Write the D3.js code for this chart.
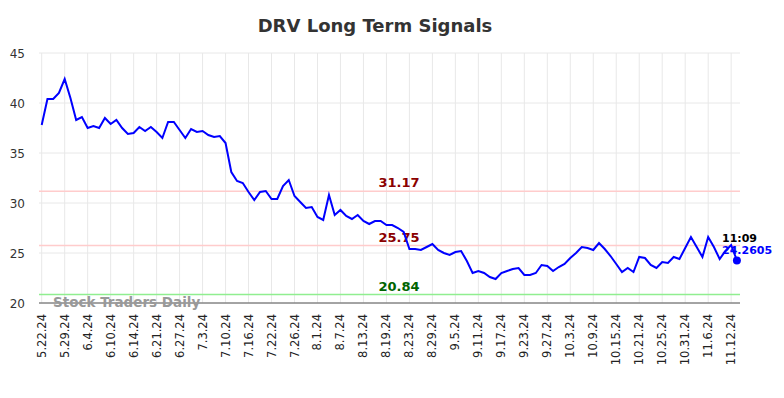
<html>
<script src='https://d3js.org/d3.v7.min.js'></script>
<style>
body { margin:0; background:#fff; }
text { font-family: "DejaVu Sans", sans-serif; }
</style>
<body>
<svg width=784 height=398></svg>
<script>
var tickLabels = ["5.22.24","5.29.24","6.4.24","6.10.24","6.14.24","6.21.24","6.27.24","7.3.24",
	"7.10.24","7.16.24","7.22.24","7.26.24","8.1.24","8.7.24","8.13.24","8.19.24","8.23.24",
	"8.29.24","9.5.24","9.11.24","9.17.24","9.23.24","9.27.24","10.3.24","10.9.24","10.15.24",
	"10.21.24","10.25.24","10.31.24","11.6.24","11.12.24"];
var prices = [37.8, 40.4, 40.4, 41.0, 42.4, 40.5, 38.3, 38.6, 37.5, 37.7, 37.5, 38.5, 37.9, 38.3, 37.5, 36.9,
	37.0, 37.6, 37.2, 37.6, 37.1, 36.5, 38.1, 38.1, 37.3, 36.5, 37.4, 37.1, 37.2, 36.8, 36.6,
	36.7, 36.0, 33.1, 32.2, 32.0, 31.1, 30.3, 31.1, 31.2, 30.4, 30.4, 31.7, 32.3, 30.7, 30.1,
	29.5, 29.6, 28.6, 28.3, 30.8, 28.8, 29.3, 28.7, 28.4, 28.8, 28.2, 27.9, 28.2, 28.2, 27.8,
	27.8, 27.5, 27.1, 25.4, 25.4, 25.3, 25.6, 25.9, 25.3, 25.0, 24.8, 25.1, 25.2, 24.2, 23.0,
	23.2, 23.0, 22.6, 22.4, 23.0, 23.2, 23.4, 23.5, 22.8, 22.8, 23.0, 23.8, 23.7, 23.2, 23.6, 23.9,
	24.5, 25.0, 25.6, 25.5, 25.3, 26.0, 25.4, 24.7, 23.9, 23.1, 23.5, 23.1, 24.6, 24.5, 23.8,
	23.5, 24.1, 24.0, 24.6, 24.4, 25.5, 26.6, 25.6, 24.6, 26.6, 25.6, 24.4, 25.2, 25.8, 24.2605];
var yTicks = [20, 25, 30, 35, 40, 45];
var levels = [31.17, 25.75, 20.84];
var levelColors = ["#ffcccc", "#ffcccc", "#90ee90"];
var levelTextColors = ["#8b0000", "#8b0000", "#006400"];
var lastTime = "11:09";
var tickStep = 4;

var width = 784, height = 398;
var margin = {top: 53, right: 44, bottom: 95, left: 39};
var svg = d3.select("svg");

var x = d3.scaleLinear()
	.domain([0, prices.length - 1])
	.range([41.7, 736.9]);
var y = d3.scaleLinear()
	.domain([20, 45])
	.range([height - margin.bottom, margin.top]);

// title
svg.append("text")
	.attr("x", 375)
	.attr("y", 32)
	.attr("text-anchor", "middle")
	.style("font-size", "18px")
	.style("font-weight", "bold")
	.style("fill", "#333")
	.text("DRV Long Term Signals");

// grid
var tickIdx = tickLabels.map(function(d, i) { return i * tickStep; });
svg.append("g").selectAll("line").data(yTicks).enter().append("line")
	.attr("x1", margin.left).attr("x2", width - margin.right)
	.attr("y1", d => y(d)).attr("y2", d => y(d))
	.attr("stroke", "#e8e8e8").attr("stroke-width", 1);
svg.append("g").selectAll("line").data(tickIdx).enter().append("line")
	.attr("x1", d => x(d)).attr("x2", d => x(d))
	.attr("y1", margin.top).attr("y2", height - margin.bottom)
	.attr("stroke", "#e8e8e8").attr("stroke-width", 1);

// y labels
svg.append("g").selectAll("text").data(yTicks).enter().append("text")
	.attr("x", 25).attr("y", d => y(d) + 4.5)
	.attr("text-anchor", "end")
	.style("font-size", "12px")
	.style("fill", "#333")
	.text(d => d);

// x labels
svg.append("g").selectAll("text").data(tickIdx).enter().append("text")
	.attr("transform", d => "translate(" + (x(d) + 4) + "," + (height - margin.bottom + 11) + ") rotate(-90)")
	.attr("text-anchor", "end")
	.style("font-size", "11.5px")
	.style("fill", "#222")
	.text((d, i) => tickLabels[i]);

// levels
var lv = svg.append("g");
lv.selectAll("line").data(levels).enter().append("line")
	.attr("x1", margin.left).attr("x2", width - margin.right)
	.attr("y1", d => y(d)).attr("y2", d => y(d))
	.attr("stroke", (d, i) => levelColors[i]).attr("stroke-width", 1.5);
lv.selectAll("text").data(levels).enter().append("text")
	.attr("x", 399).attr("y", d => y(d) - 4)
	.attr("text-anchor", "middle")
	.style("font-size", "13px")
	.style("font-weight", "bold")
	.style("fill", (d, i) => levelTextColors[i])
	.text(d => d.toFixed(2));

// bottom axis line
svg.append("line")
	.attr("x1", margin.left).attr("x2", width - margin.right)
	.attr("y1", y(20)).attr("y2", y(20))
	.attr("stroke", "#555").attr("stroke-width", 1);

// watermark
svg.append("text")
	.attr("x", 53).attr("y", 307)
	.style("font-size", "13.5px")
	.style("font-weight", "bold")
	.style("fill", "#999")
	.text("Stock Traders Daily");

// price line
var line = d3.line()
	.x((d, i) => x(i))
	.y(d => y(d));
svg.append("path")
	.datum(prices)
	.attr("d", line)
	.attr("fill", "none")
	.attr("stroke", "#0000ff")
	.attr("stroke-width", 2);

// last point
var li = prices.length - 1;
svg.append("circle")
	.attr("cx", x(li)).attr("cy", y(prices[li]))
	.attr("r", 4).attr("fill", "#0000ff");
svg.append("text")
	.attr("x", 722).attr("y", 242)
	.style("font-size", "11px").style("font-weight", "bold").style("fill", "#000")
	.text(lastTime);
svg.append("text")
	.attr("x", 722).attr("y", 254)
	.style("font-size", "11px").style("font-weight", "bold").style("fill", "#0000ff")
	.text(prices[li]);
</script>
</body>
</html>
